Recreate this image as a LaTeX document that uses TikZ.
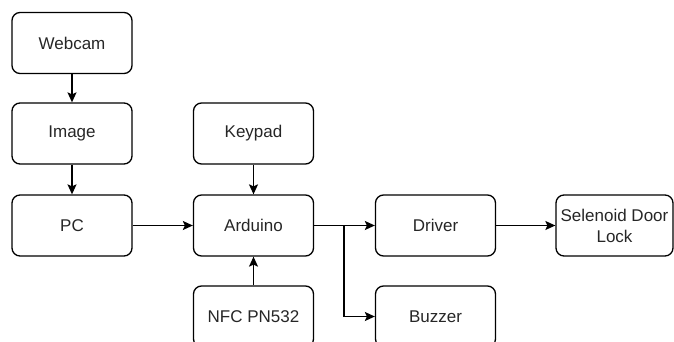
\documentclass[tikz,border=0pt]{standalone}
\usepackage{fontspec}
\setmainfont{Liberation Sans}
\usetikzlibrary{arrows.meta}
\begin{document}
\begin{tikzpicture}[x=1pt,y=-1pt,
  box/.style={draw, line width=1.3pt, rounded corners=8pt, minimum width=120pt, minimum height=61pt,
    inner sep=0pt, align=center, font=\fontsize{17pt}{21pt}\selectfont, text=black!85},
  conn/.style={line width=1.3pt, -{Stealth[length=10pt,width=9pt,inset=2pt]}}]
\useasboundingbox (0,0) rectangle (674,342);
\clip (0,0) rectangle (674,342);
\node[box] (webcam) at (72,43) {Webcam};
\node[box] (image) at (72,133.5) {Image};
\node[box] (pc) at (72,225.5) {PC};
\node[box] (keypad) at (253.5,133.5) {Keypad};
\node[box] (arduino) at (253.5,225.5) {Arduino};
\node[box] (nfc) at (253.5,316.5) {NFC PN532};
\node[box] (driver) at (435.5,225.5) {Driver};
\node[box] (buzzer) at (435.5,316.5) {Buzzer};
\node[box, minimum width=117pt] (lock) at (614.5,225.5) {Selenoid Door\\Lock};
\coordinate (branch) at (344,225.5);
\draw[conn] (webcam) -- (image);
\draw[conn] (image) -- (pc);
\draw[conn] (pc) -- (arduino);
\draw[conn] (keypad) -- (arduino);
\draw[conn] (nfc) -- (arduino);
\draw[conn] (arduino) -- (driver);
\draw[conn] (branch) |- (buzzer);
\draw[conn] (driver) -- (lock);
\end{tikzpicture}
\end{document}
